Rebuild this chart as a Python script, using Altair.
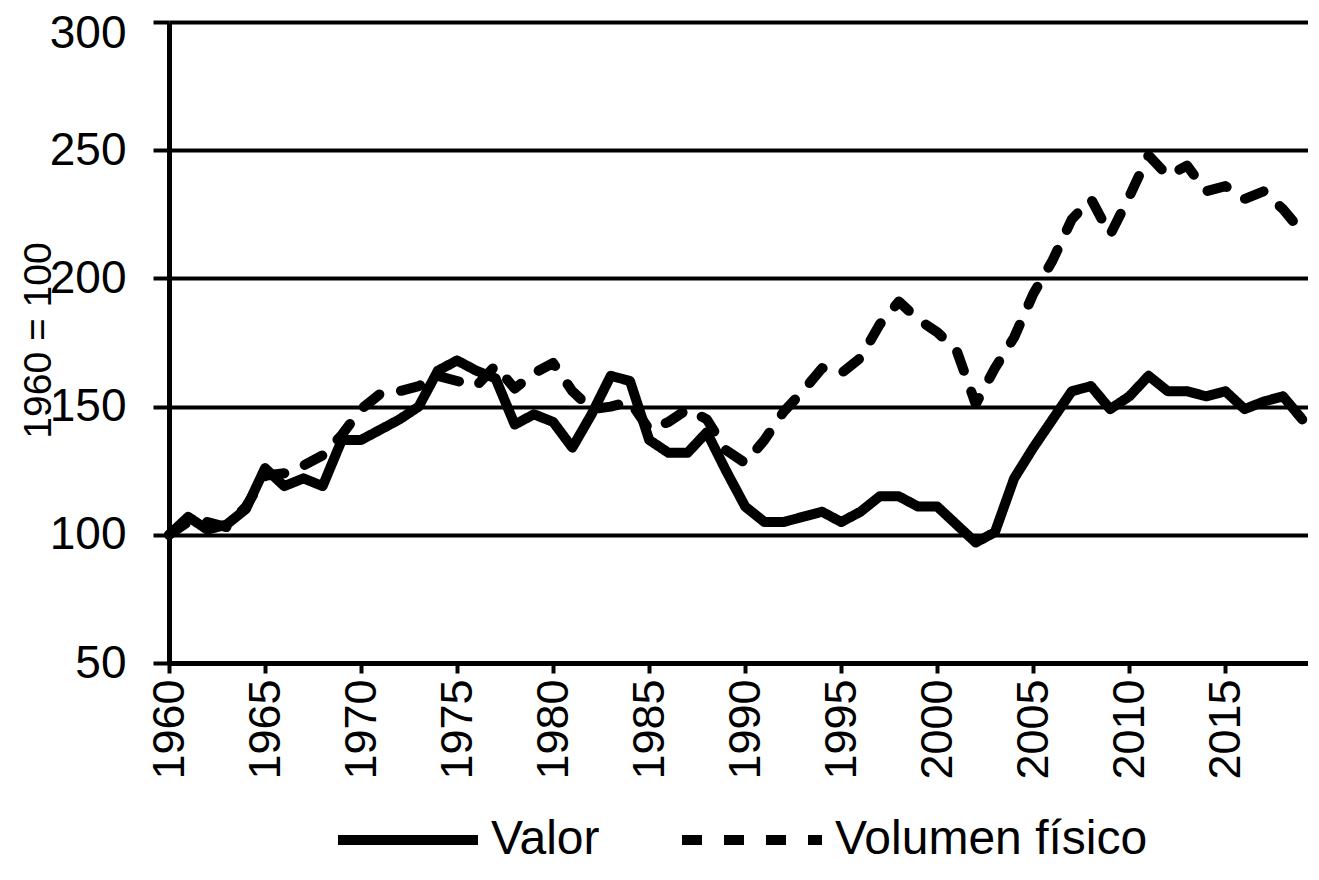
import altair as alt
import pandas as pd

years = list(range(1960, 2020))

valor = [100, 107, 102, 104, 110, 126, 119, 122, 119, 137,
         137, 141, 145, 150, 164, 168, 164, 161, 143, 147,
         144, 134, 147, 162, 160, 137, 132, 132, 140, 125,
         111, 105, 105, 107, 109, 105, 109, 115, 115, 111,
         111, 104, 97, 101, 122, 134, 145, 156, 158, 149,
         154, 162, 156, 156, 154, 156, 149, 152, 154, 145]

volumen = [100, 105, 105, 103, 111, 123, 124, 127, 131, 139,
           149, 155, 156, 158, 162, 160, 158, 166, 157, 163,
           167, 156, 149, 150, 152, 141, 144, 149, 145, 133,
           128, 137, 148, 156, 165, 163, 169, 182, 191, 184,
           179, 172, 151, 165, 177, 194, 207, 223, 231, 217,
           232, 248, 240, 244, 234, 236, 231, 234, 227, 218]

series_names = ["Valor", "Volumen físico"]
x_ticks = list(range(1960, 2020, 5))
y_ticks = [50, 100, 150, 200, 250, 300]

df = pd.DataFrame({
    "year": years + years,
    "value": valor + volumen,
    "serie": [series_names[0]] * len(years) + [series_names[1]] * len(years),
})

FONT = "Liberation Sans"

chart = alt.Chart(df).mark_line(
    strokeWidth=10, strokeCap="round", strokeJoin="round", color="black"
).encode(
    x=alt.X("year:Q",
            scale=alt.Scale(domain=[1960, 2019.3], nice=False, zero=False),
            axis=alt.Axis(values=x_ticks, format="d", labelAngle=-90, title=None,
                          grid=False, domainColor="black", domainWidth=5,
                          tickColor="black", tickWidth=4, tickSize=10,
                          labelFont=FONT, labelFontSize=45, labelColor="black",
                          labelPadding=6, labelFlush=False, labelOverlap=False)),
    y=alt.Y("value:Q",
            scale=alt.Scale(domain=[50, 300], nice=False, zero=False),
            axis=alt.Axis(values=y_ticks, title="1960 = 100", grid=True,
                          gridColor="black", gridWidth=4, gridOpacity=1,
                          domainColor="black", domainWidth=5,
                          tickColor="black", tickWidth=4, tickSize=16,
                          labelFont=FONT, labelFontSize=46, labelColor="black",
                          labelPadding=27, labelFlush=False,
                          labelOffset=alt.condition("datum.value == 300",
                                                    alt.value(11), alt.value(0)),
                          titleFont=FONT, titleFontSize=39, titleFontWeight="normal",
                          titleColor="black", titleAngle=270, titleAlign="center",
                          titleBaseline="middle", titleX=-131, titleY=318)),
    strokeDash=alt.StrokeDash(
        "serie:N",
        scale=alt.Scale(domain=series_names, range=[[1, 0], [20, 22]]),
        legend=alt.Legend(
            title=None, orient="none", direction="horizontal",
            legendX=164, legendY=743, padding=0,
            symbolType="stroke", symbolSize=19600, symbolStrokeWidth=10,
            symbolStrokeColor="black", symbolFillColor="transparent",
            labelFont=FONT, labelFontSize=48,
            labelColor="black", labelOffset=8, columnPadding=62,
            labelLimit=600,
        ),
    ),
).properties(
    width=1139,
    height=641,
    padding={"left": 161, "top": 14, "right": 0, "bottom": 203},
    autosize="none",
).configure_view(stroke=None).configure(background="white")

chart.save("out.html", embed_options={"renderer": "svg", "actions": False})
